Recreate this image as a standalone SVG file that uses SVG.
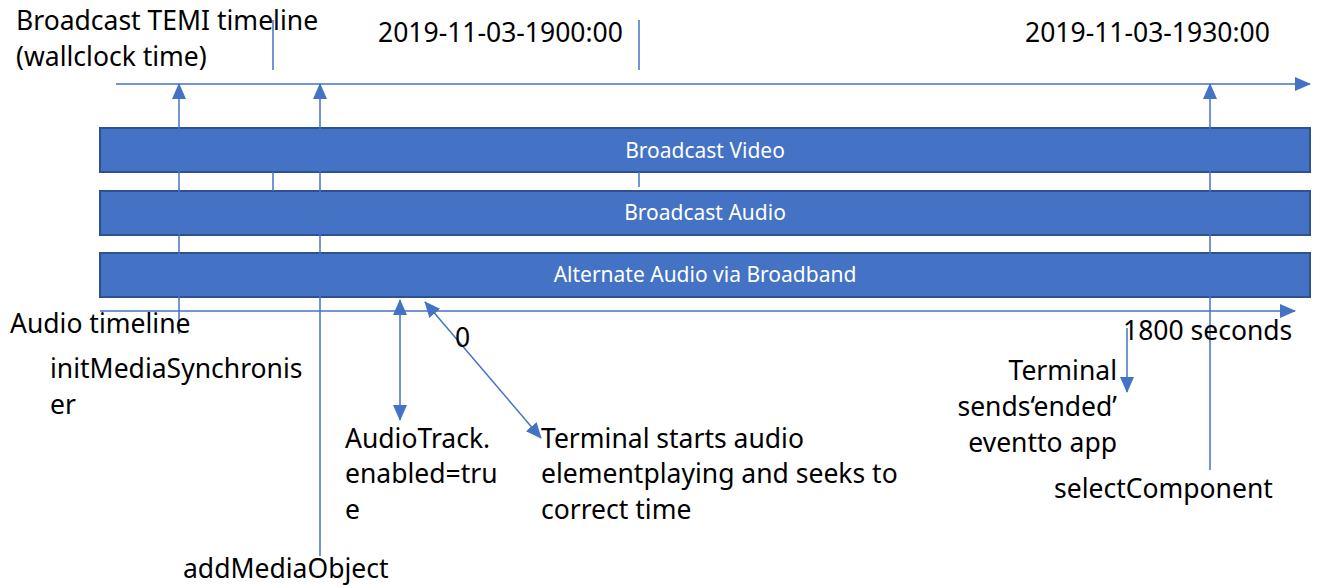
<svg xmlns="http://www.w3.org/2000/svg" width="1319" height="585" viewBox="0 0 1319 585">
<style>
.t{font-family:"Noto Sans","Open Sans",sans-serif;font-size:26.5px;fill:#000}
.b{font-family:"Noto Sans","Open Sans",sans-serif;font-size:21px;fill:#fff;text-anchor:middle}
.bar{fill:#4472C4;stroke:#2F528F;stroke-width:2}
.ln{stroke:#4472C4;stroke-width:1.5;fill:none}
.r{text-anchor:end}
</style>
<defs>
<marker id="ah" markerUnits="userSpaceOnUse" markerWidth="16" markerHeight="14" refX="15" refY="7" orient="auto-start-reverse">
<path d="M0,0 L16,7 L0,14 Z" fill="#4472C4"/>
</marker>
</defs>
<rect width="1319" height="585" fill="#fff"/>
<g id="bar-video"><rect class="bar" x="100" y="128" width="1210" height="44"/><text class="b" x="705" y="158">Broadcast Video</text></g>
<g id="bar-audio"><rect class="bar" x="100" y="191" width="1210" height="44"/><text class="b" x="705" y="220">Broadcast Audio</text></g>
<g id="bar-alt"><rect class="bar" x="100" y="253" width="1210" height="44"/><text class="b" x="705" y="282">Alternate Audio via Broadband</text></g>
<g id="connectors">
<line class="ln" x1="116" y1="84" x2="1310" y2="84" marker-end="url(#ah)"/>
<line class="ln" x1="100" y1="311" x2="1295" y2="311" marker-end="url(#ah)"/>
<line class="ln" x1="273" y1="20" x2="273" y2="70"/>
<line class="ln" x1="273" y1="172" x2="273" y2="191"/>
<line class="ln" x1="639" y1="20" x2="639" y2="70"/>
<line class="ln" x1="639" y1="172" x2="639" y2="187"/>
<line class="ln" x1="179" y1="334" x2="179" y2="84" marker-end="url(#ah)"/>
<line class="ln" x1="320" y1="556" x2="320" y2="84" marker-end="url(#ah)"/>
<line class="ln" x1="1210" y1="470" x2="1210" y2="84" marker-end="url(#ah)"/>
<line class="ln" x1="400" y1="300" x2="400" y2="420" marker-start="url(#ah)" marker-end="url(#ah)"/>
<line class="ln" x1="425" y1="302" x2="541" y2="438" marker-start="url(#ah)" marker-end="url(#ah)"/>
<line class="ln" x1="1127" y1="328" x2="1127" y2="392" marker-end="url(#ah)"/>
</g>
<g id="labels">
<text class="t" x="16" y="30">Broadcast TEMI timeline</text>
<text class="t" x="16" y="66">(wallclock time)</text>
<text class="t" x="378" y="42">2019-11-03-1900:00</text>
<text class="t" x="1025" y="42">2019-11-03-1930:00</text>
<text class="t" x="10" y="333">Audio timeline</text>
<text class="t" x="50" y="378">initMediaSynchronis</text>
<text class="t" x="50" y="414">er</text>
<text class="t" x="183" y="578">addMediaObject</text>
<text class="t" x="345" y="448">AudioTrack.</text>
<text class="t" x="345" y="483">enabled=tru</text>
<text class="t" x="345" y="519">e</text>
<text class="t" x="455" y="347">0</text>
<text class="t" x="541" y="448">Terminal starts audio</text>
<text class="t" x="541" y="483">elementplaying and seeks to</text>
<text class="t" x="541" y="519">correct time</text>
<text class="t" x="1123" y="340">1800 seconds</text>
<text class="t r" x="1117" y="380">Terminal</text>
<text class="t r" x="1117" y="416">sends‘ended’</text>
<text class="t r" x="1117" y="452">eventto app</text>
<text class="t" x="1054" y="498">selectComponent</text>
</g>
</svg>
